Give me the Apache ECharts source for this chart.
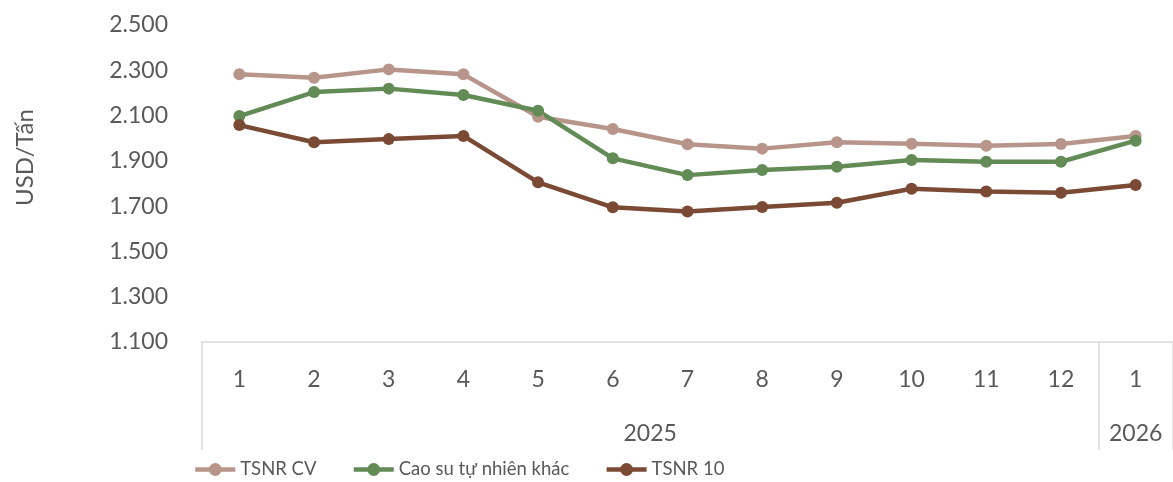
<!DOCTYPE html>
<html>
<head>
<meta charset="utf-8">
<script src="https://cdn.jsdelivr.net/npm/echarts@6/dist/echarts.min.js"></script>
<style>
  html, body { margin: 0; padding: 0; background: #fff; }
  #chart { width: 1173px; height: 482px; }
</style>
</head>
<body>
<div id="chart"></div>
<script>
// Monthly natural rubber prices (USD per tonne), Jan 2025 – Jan 2026
const months = ['1', '2', '3', '4', '5', '6', '7', '8', '9', '10', '11', '12', '1'];
const years = ['2025', '2026'];
const monthsPerYear = [12, 1];

const tsnrCV = [2282, 2267, 2304, 2282, 2095, 2041, 1973, 1954, 1982, 1976, 1967, 1974, 2010];
const caoSuKhac = [2098, 2204, 2219, 2191, 2121, 1911, 1837, 1860, 1874, 1904, 1896, 1896, 1989];
const tsnr10 = [2058, 1982, 1996, 2010, 1805, 1695, 1676, 1696, 1715, 1777, 1765, 1759, 1793];

const yTicks = { min: 1100, max: 2500, step: 200 };

const FONT = 'Lato, "Noto Sans", sans-serif';
const TEXT = '#595959';
const AXIS = '#D9D9D9';

// group boundaries and centres for the year row
const bounds = [0];
monthsPerYear.forEach(n => bounds.push(bounds[bounds.length - 1] + n));
const centres = monthsPerYear.map((n, i) => bounds[i] + n / 2);

const fmt = v => String(v).replace(/\B(?=(\d{3})+(?!\d))/g, '.');

function lineSeries(name, data, color) {
  return {
    name, type: 'line', data,
    xAxisIndex: 0, yAxisIndex: 0,
    symbol: 'circle', symbolSize: 12,
    lineStyle: { width: 4.5, color },
    itemStyle: { color },
    emphasis: { disabled: true },
    z: 3
  };
}

const chart = echarts.init(document.getElementById('chart'));
chart.setOption({
  animation: false,
  textStyle: { fontFamily: FONT },
  grid: { left: 202, top: 25, width: 972, height: 317 },
  legend: {
    left: 193, top: 460, padding: 0,
    itemWidth: 40, itemHeight: 16, itemGap: 35,
    lineStyle: { width: 4.5 },
    textStyle: { fontFamily: FONT, fontSize: 18.5, color: TEXT },
    data: ['TSNR CV', 'Cao su tự nhiên khác', 'TSNR 10']
  },
  xAxis: [
    {
      type: 'category', data: months, boundaryGap: true, position: 'bottom',
      axisLine: { show: true, lineStyle: { color: AXIS, width: 1.5 } },
      axisTick: { show: false },
      axisLabel: { color: TEXT, fontSize: 23, margin: 26, fontFamily: FONT },
      splitLine: { show: false }
    },
    {
      type: 'value', min: 0, max: bounds[bounds.length - 1], position: 'bottom',
      gridIndex: 0,
      axisLine: { show: false },
      axisTick: {
        show: true, inside: false, length: 108,
        customValues: bounds,
        lineStyle: { color: AXIS, width: 1.5 }
      },
      axisLabel: {
        show: true, color: TEXT, fontSize: 23, margin: 80, fontFamily: FONT,
        customValues: centres,
        formatter: v => years[centres.indexOf(v)] || ''
      },
      splitLine: { show: false }
    }
  ],
  yAxis: {
    type: 'value', min: yTicks.min, max: yTicks.max, interval: yTicks.step,
    name: 'USD/Tấn', nameLocation: 'middle', nameGap: 165, nameRotate: 90,
    nameTextStyle: { color: TEXT, fontSize: 24, fontFamily: FONT, padding: [0, 0, 0, 52] },
    axisLine: { show: false },
    axisTick: { show: false },
    splitLine: { show: false },
    axisLabel: { color: TEXT, fontSize: 23, margin: 34, fontFamily: FONT, formatter: fmt }
  },
  series: [
    lineSeries('TSNR CV', tsnrCV, '#B8958A'),
    lineSeries('Cao su tự nhiên khác', caoSuKhac, '#628B55'),
    lineSeries('TSNR 10', tsnr10, '#7A4A34')
  ]
});
</script>
</body>
</html>
